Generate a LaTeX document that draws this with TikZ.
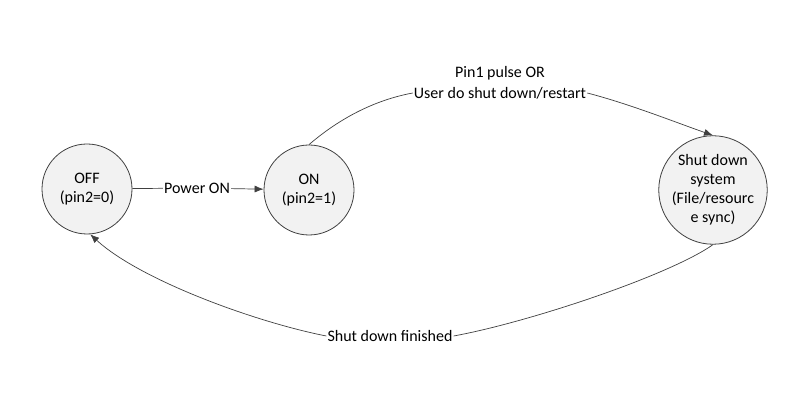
\documentclass[tikz,border=0pt]{standalone}
\usepackage{fontspec}
\setmainfont{Carlito}
\usetikzlibrary{arrows.meta}
\definecolor{linec}{HTML}{404040}
\definecolor{statefill}{HTML}{F2F2F2}
\tikzset{
  statenode/.style={circle, draw=linec, fill=statefill, line width=0.8pt, minimum size=90pt, inner sep=0pt, align=center, font=\fontsize{16}{19}\selectfont},
  lbl/.style={inner sep=1pt, font=\fontsize{16}{19}\selectfont, fill=white},
  conn/.style={draw=linec, line width=0.7pt},
  arr/.style={conn, -{Latex[length=9pt,width=7pt]}}
}
\begin{document}
\begin{tikzpicture}[x=1pt,y=-1pt]
\useasboundingbox[fill=white] (0,0) rectangle (801,411);
\node[statenode] (off) at (87,189) {OFF\\(pin2=0)};
\node[statenode] (on) at (309,190) {ON\\(pin2=1)};
\node[statenode] (sd) at (713,190) {Shut down\\system\\(File/resourc\\e sync)};
\node[lbl] (pwr) at (197,188) {Power ON};
\node[lbl] (top2) at (500,93) {User do shut down/restart};
\node[lbl, fill=none] (top1) at (500,73) {Pin1 pulse OR};
\node[lbl] (fin) at (390,336) {Shut down finished};
\draw[conn] (off) -- (pwr);
\draw[arr] (pwr) -- (on);
\draw[conn] (on.north) .. controls (340,118) and (375,100) .. (top2.west);
\draw[arr] (top2.east) .. controls (630,104) and (680,124) .. (sd.north);
\draw[conn] (sd.south) .. controls (670,275) and (530,322) .. (fin.east);
\draw[arr] (fin.west) .. controls (255,322) and (140,280) .. (off.-86);
\end{tikzpicture}
\end{document}
